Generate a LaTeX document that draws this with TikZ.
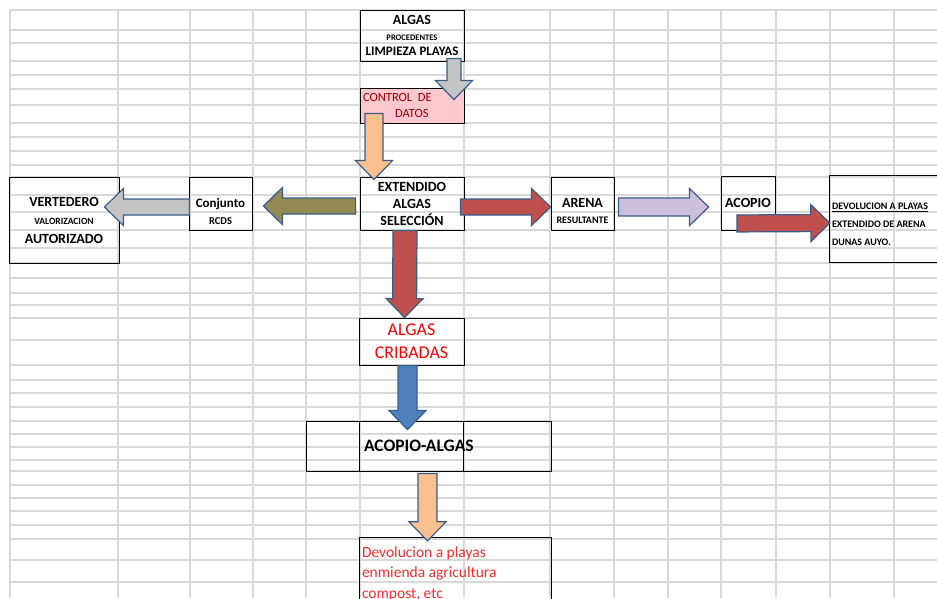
\documentclass[tikz,border=0pt]{standalone}
\usepackage{fontspec}
\setmainfont{Carlito}
\usetikzlibrary{calc}

\definecolor{gridgray}{HTML}{D9D9D9}
\definecolor{edgeblue}{HTML}{385D8A}
\definecolor{badfill}{HTML}{FFC7CE}
\definecolor{badtext}{HTML}{9C0006}
\definecolor{arrowgray}{HTML}{C4C4C4}
\definecolor{arrowpeach}{HTML}{FAC090}
\definecolor{arrowolive}{HTML}{948A54}
\definecolor{arrowred}{HTML}{C0504D}
\definecolor{arrowlilac}{HTML}{CCC0DA}
\definecolor{arrowblue}{HTML}{4F81BD}
\definecolor{devred}{HTML}{FF2A2A}

\newcommand{\fsz}[1]{\fontsize{#1}{#1}\selectfont}
\newcommand{\plainsp}{\spaceskip=0pt\xspaceskip=0pt\relax}

\tikzstyle{gridline} = [gridgray, line width=1.5pt]
\tikzstyle{cell} = [rectangle, draw=black, line width=0.9pt, inner sep=2pt, align=center]
\tikzstyle{openbox} = [rectangle, draw=none, inner sep=2pt, align=left]
\tikzstyle{rim} = [black, line width=0.9pt]

\tikzset{
  blk/.style 2 args={draw=edgeblue, line width=1.2pt, fill=#1,
    to path={let \p1=(\tikztostart), \p2=(\tikztotarget),
      \n1={atan2(\y2-\y1,\x2-\x1)}, \n2={veclen(\x2-\x1,\y2-\y1)} in
      ([shift={(\p1)},rotate=\n1]0pt,#2)
      -- ([shift={(\p1)},rotate=\n1]\n2-19pt,#2)
      -- ([shift={(\p1)},rotate=\n1]\n2-19pt,18.5pt)
      -- ([shift={(\p1)},rotate=\n1]\n2,0pt)
      -- ([shift={(\p1)},rotate=\n1]\n2-19pt,-18.5pt)
      -- ([shift={(\p1)},rotate=\n1]\n2-19pt,-#2)
      -- ([shift={(\p1)},rotate=\n1]0pt,-#2) -- cycle}}
}

\begin{document}
\begin{tikzpicture}[x=1pt, y=-1pt]
\useasboundingbox (0,0) rectangle (937,598);

% sheet grid
\foreach \gx in {10,118,190,253,306,360,464,550,614,668,721,776,830,894}
  \draw [gridline] (\gx,10) -- (\gx,598);
\foreach \gy in {10,30,43,61,75,89,105,123,137,151,165,177,195,212,230,248,263,278,293,305,318,340,365,380,393,407,421,434,447,460,471,485,498,511,525,539,560,582}
  \draw [gridline] (10,\gy) -- (937,\gy);

% boxes
\node (algas) [cell, minimum width=104pt, minimum height=51pt, font=\bfseries\fontsize{13}{15.2}\selectfont] at (412,35.5) {{\fsz{14}ALGAS}\\{\fsz{8.5}PROCEDENTES}\\LIMPIEZA PLAYAS};
\node (control) [cell, fill=badfill, minimum width=104pt, minimum height=35pt, text width=98pt, align=left, text=badtext, font=\fontsize{12.5}{16}\selectfont] at (412,105.5) {\plainsp CONTROL\ \ DE\\\hspace*{32pt}DATOS};
\node (extend) [cell, minimum width=104pt, minimum height=53pt, font=\bfseries\fontsize{14}{17}\selectfont] at (412,203.5) {EXTENDIDO\\ALGAS\\SELECCIÓN};
\node (conj) [cell, minimum width=63pt, minimum height=53pt, font=\bfseries\fontsize{13}{17}\selectfont] at (220.5,203.5) {\rule{0pt}{8pt}\\Conjunto\\{\fsz{10.5}RCDS}};
\node (vert) [cell, minimum width=110pt, minimum height=86pt, font=\bfseries\fontsize{14}{18.5}\selectfont] at (64,220) {VERTEDERO\\{\fsz{9.5}VALORIZACION}\\AUTORIZADO};
\node (arena) [cell, minimum width=63pt, minimum height=53pt, font=\bfseries\fontsize{14}{16.5}\selectfont] at (582.5,203.5) {\rule{0pt}{8pt}\\ARENA\\{\fsz{10}RESULTANTE}};
\node (acopio) [cell, minimum width=54pt, minimum height=54pt, font=\bfseries\fontsize{14}{16}\selectfont] at (748,203) {ACOPIO};
\node (devol) [openbox, minimum width=107pt, minimum height=86pt, text width=103pt, font=\bfseries\fontsize{10}{18}\selectfont] at (883.5,219) {\plainsp\rule{0pt}{18pt}\underline{DEVOLUCION A PLAYAS}\\EXTENDIDO DE ARENA\\DUNAS AUYO.};
\node (criba) [cell, minimum width=105pt, minimum height=47pt, text=red, font=\fontsize{18}{23}\selectfont] at (411.5,341.5) {ALGAS\\CRIBADAS};
\node (acal) [cell, minimum width=245pt, minimum height=50pt, inner sep=3pt, text width=239pt, align=left, font=\bfseries\fontsize{17.5}{20}\selectfont] at (428.5,446) {\hspace*{55pt}ACOPIO-ALGAS};
\node (devpl) [openbox, minimum width=191pt, minimum height=71pt, text width=187pt, text=devred, font=\fontsize{15.5}{20.5}\selectfont] at (455.5,573.5) {\plainsp Devolucion a playas\\enmienda agricultura\\compost, etc};

\draw [rim] (devol.north east) -- (devol.north west) -- (devol.south west) -- (devol.south east);
\draw [rim] (devpl.south west) -- (devpl.north west) -- (devpl.north east) -- (devpl.south east);
\draw [rim] ($(acal.north west)+(54,0)$) -- ($(acal.south west)+(54,0)$);
\draw [rim] ($(acal.north west)+(158,0)$) -- ($(acal.south west)+(158,0)$);

% block arrows
\draw [blk={arrowgray}{7pt}] ($(algas.south)+(42,-3)$) to ($(control.north)+(42,12)$);
\draw [blk={arrowpeach}{9pt}] ($(control.south)+(-38,-10)$) to ($(extend.north)+(-38,3)$);
\draw [blk={arrowolive}{8pt}] ($(extend.west)+(-4,2.5)$) to ($(conj.east)+(11,2.5)$);
\draw [blk={arrowgray}{8pt}] ($(conj.west)+(1,3.5)$) to ($(vert.east)+(-15,-13)$);
\draw [blk={arrowred}{8pt}] ($(extend.east)+(-4,3.5)$) to ($(arena.west)+(0,3.5)$);
\draw [blk={arrowlilac}{9pt}] ($(arena.east)+(4,3.5)$) to ($(acopio.west)+(-12,4)$);
\draw [blk={arrowred}{8.5pt}] ($(acopio.south)+(-11,-7)$) to ($(devol.west)+(0,4)$);
\draw [blk={arrowred}{12pt}] ($(extend.south)+(-7,0)$) to ($(criba.north)+(-7,0)$);
\draw [blk={arrowblue}{9.5pt}] ($(criba.south)+(-4,0)$) to ($(acal.north)+(-21,9)$);
\draw [blk={arrowpeach}{9.5pt}] ($(acal.south)+(-1,2)$) to ($(devpl.north)+(-28,3)$);

\end{tikzpicture}
\end{document}
